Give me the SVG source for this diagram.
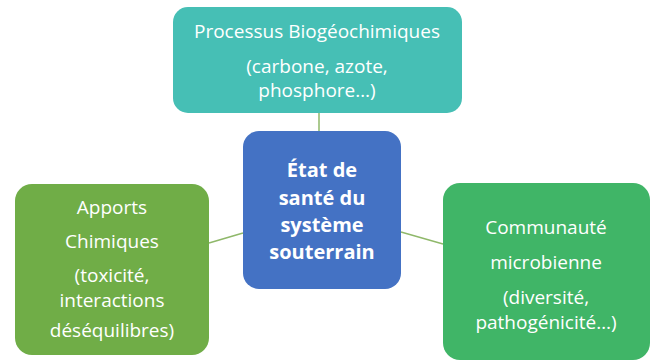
<svg xmlns="http://www.w3.org/2000/svg" width="652" height="361" viewBox="0 0 652 361">
<style>
.t{font-family:"Open Sans","Liberation Sans",sans-serif;font-size:19px;fill:#fff;text-anchor:middle}
.b{font-family:"Open Sans","Liberation Sans",sans-serif;font-size:20px;font-weight:bold;fill:#fff;text-anchor:middle}
.c{stroke:#8fb86a;stroke-width:1.5;fill:none}
</style>
<rect width="652" height="361" fill="#fff"/>
<g id="connectors">
<line class="c" x1="319" y1="113" x2="319" y2="131"/>
<line class="c" x1="209" y1="243" x2="243" y2="233"/>
<line class="c" x1="401" y1="232" x2="443" y2="244"/>
</g>
<g id="top">
<rect x="173" y="7" width="289" height="106" rx="15" fill="#46bfb5"/>
<text class="t" x="317" y="38">Processus Biogéochimiques</text>
<text class="t" x="317" y="73">(carbone, azote,</text>
<text class="t" x="317" y="97">phosphore…)</text>
</g>
<g id="center">
<rect x="243" y="131" width="158" height="158" rx="16" fill="#4472c4"/>
<text class="b" x="322" y="177">État de</text>
<text class="b" x="322" y="205">santé du</text>
<text class="b" x="322" y="232">système</text>
<text class="b" x="322" y="259">souterrain</text>
</g>
<g id="left">
<rect x="15" y="184" width="194" height="171" rx="17" fill="#70ad47"/>
<text class="t" x="112" y="214">Apports</text>
<text class="t" x="112" y="248">Chimiques</text>
<text class="t" x="112" y="282">(toxicité,</text>
<text class="t" x="112" y="307">interactions</text>
<text class="t" x="112" y="337">déséquilibres)</text>
</g>
<g id="right">
<rect x="443" y="183" width="207" height="177" rx="17" fill="#40b567"/>
<text class="t" x="546" y="234">Communauté</text>
<text class="t" x="546" y="269">microbienne</text>
<text class="t" x="546" y="304">(diversité,</text>
<text class="t" x="546" y="329">pathogénicité…)</text>
</g>
</svg>
